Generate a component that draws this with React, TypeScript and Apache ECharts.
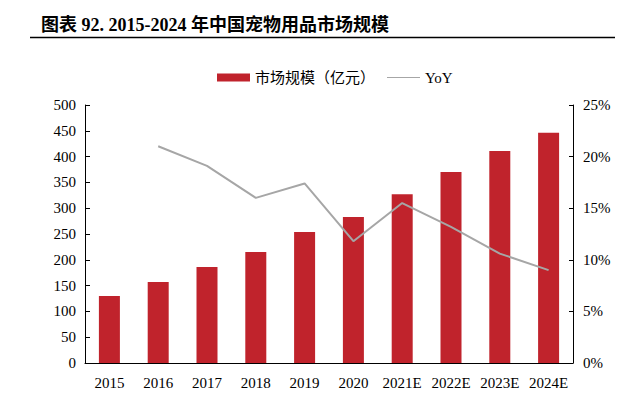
import React, { useEffect, useRef } from "react";
import * as echarts from "echarts";

const categories = ["2015", "2016", "2017", "2018", "2019", "2020", "2021E", "2022E", "2023E", "2024E"];
const marketSize = [130, 157, 186, 215, 254, 283, 327, 370, 411, 446];
const yoy = [null, 21.0, 19.1, 16.0, 17.4, 11.8, 15.5, 13.2, 10.6, 9.0];

const serif = "'Liberation Serif', 'Times New Roman', 'Noto Sans CJK SC', serif";

export default function App() {
  const ref = useRef<HTMLDivElement>(null);
  useEffect(() => {
    if (!ref.current) return;
    const chart = echarts.init(ref.current, null, { renderer: "svg" });
    chart.setOption({
      animation: false,
      backgroundColor: "#ffffff",
      textStyle: { fontFamily: serif },
      graphic: [
        {
          type: "text",
          x: 41,
          y: 25,
          style: {
            text: "图表 92. 2015-2024 年中国宠物用品市场规模",
            font: "bold 18px 'Liberation Serif', 'Noto Sans CJK SC', serif",
            fill: "#000",
            verticalAlign: "middle",
          },
        },
        {
          type: "line",
          shape: { x1: 30, y1: 37.5, x2: 615, y2: 37.5 },
          style: { stroke: "#000", lineWidth: 1.5 },
        },
      ],
      legend: {
        top: 65,
        left: 212,
        itemWidth: 33,
        itemHeight: 8,
        itemGap: 12,
        textStyle: { fontFamily: serif, fontSize: 15, color: "#000" },
        data: [
          { name: "市场规模（亿元）", icon: "rect" },
          { name: "YoY", icon: "path://M0,0 L33,0 L33,1 L0,1 Z" },
        ],
      },
      grid: { left: 85, right: 67, top: 105, bottom: 34 },
      xAxis: {
        type: "category",
        data: categories,
        axisLine: { lineStyle: { color: "#000", width: 1 } },
        axisTick: { show: false },
        axisLabel: { color: "#000", fontSize: 15, fontFamily: serif, margin: 12, interval: 0, hideOverlap: false },
      },
      yAxis: [
        {
          type: "value",
          min: 0,
          max: 500,
          interval: 50,
          splitLine: { show: false },
          axisLine: { show: true, lineStyle: { color: "#000" } },
          axisTick: { show: true, inside: true, length: 5, lineStyle: { color: "#000" } },
          axisLabel: { color: "#000", fontSize: 15, fontFamily: serif, margin: 9 },
        },
        {
          type: "value",
          min: 0,
          max: 25,
          interval: 5,
          splitLine: { show: false },
          axisLine: { show: true, lineStyle: { color: "#000" } },
          axisTick: { show: true, inside: true, length: 4, lineStyle: { color: "#000" } },
          axisLabel: { color: "#000", fontSize: 15, fontFamily: serif, margin: 10, formatter: "{value}%" },
        },
      ],
      series: [
        {
          name: "市场规模（亿元）",
          type: "bar",
          data: marketSize,
          barWidth: 21,
          itemStyle: { color: "#c0232c" },
        },
        {
          name: "YoY",
          type: "line",
          yAxisIndex: 1,
          data: yoy,
          symbol: "none",
          lineStyle: { color: "#a6a6a6", width: 2 },
          itemStyle: { color: "#a6a6a6" },
        },
      ],
    });
    return () => chart.dispose();
  }, []);
  return <div ref={ref} style={{ width: 640, height: 397, position: "absolute", left: 0, top: 0 }} />;
}
